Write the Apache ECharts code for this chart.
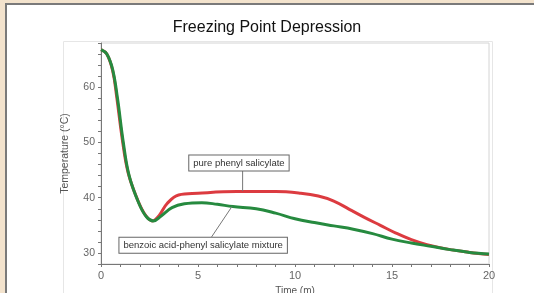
<!DOCTYPE html>
<html>
<head>
<meta charset="utf-8">
<script src="https://cdn.jsdelivr.net/npm/echarts@6/dist/echarts.min.js"></script>
<style>
  html, body { margin: 0; padding: 0; background: #f3e3cd; overflow: hidden; }
  #panel { position: absolute; left: 5px; top: 3px; width: 600px; height: 400px; background: #fff;
           border-left: 2px solid #7a7a7a; border-top: 2px solid #7a7a7a; }
  #chart { position: absolute; left: 0; top: 0; width: 534px; height: 293px; }
</style>
</head>
<body>
<div id="panel"></div>
<div id="chart"></div>
<script>
// time (min), temperature (°C)
let pureTime = [0, 0.3, 0.6, 0.8, 1.1, 1.4, 1.9, 2.3, 2.65, 3.0, 3.4, 4.0, 5, 7, 9, 10.3, 11.2, 12, 12.8, 13.6, 14.4, 15.2, 16, 16.8, 18, 19, 20];
let pureTemp = [66.8, 66, 63, 58.5, 50.5, 44.5, 39.5, 36.8, 35.8, 36.8, 38.9, 40.5, 40.8, 41.1, 41.1, 40.8, 40.3, 39.4, 37.9, 36.4, 35, 33.6, 32.4, 31.5, 30.6, 30.1, 29.7];

let mixTime = [0, 0.3, 0.6, 0.85, 1.15, 1.45, 1.95, 2.35, 2.7, 3.1, 3.66, 4.3, 5.2, 6, 6.8, 8, 9, 10, 11, 12, 13, 14, 15, 16, 17, 18, 19, 20];
let mixTemp = [66.8, 66, 63.2, 58, 50, 44, 39, 36.5, 35.8, 36.7, 38.2, 38.9, 39.1, 38.8, 38.4, 38, 37.2, 36.2, 35.5, 34.9, 34.3, 33.5, 32.5, 31.8, 31.2, 30.6, 30.1, 29.8];

let yTicks = [30, 40, 50, 60];
let xTicks = [0, 5, 10, 15, 20];

// callouts: text, box anchor (left, middle) and leader line ends, all in data units
let notes = [
    { text: 'pure phenyl salicylate', box: [4.55, 46.3], from: [7.3, 44.9], to: [7.3, 41.2] },
    { text: 'benzoic acid-phenyl salicylate mixture', box: [0.95, 31.4], from: [5.7, 32.9], to: [6.75, 38.4] }
];

let zip = (xs, ys) => xs.map((x, i) => [x, ys[i]]);

let chart = echarts.init(document.getElementById('chart'));

let option = {
    backgroundColor: 'transparent',
    animation: false,
    title: {
        text: 'Freezing Point Depression',
        left: 'center',
        top: 15,
        textStyle: { fontFamily: 'Liberation Sans, Arial', fontSize: 16, fontWeight: 'normal', color: '#111' }
    },
    grid: {
        left: 101, right: 45, top: 43, bottom: 29,
        outerBoundsMode: 'none',
        containLabel: false,
        show: true, borderColor: '#d4d4d4', borderWidth: 1
    },
    xAxis: {
        type: 'value',
        min: 0, max: 20, interval: 1,
        name: 'Time (m)',
        nameLocation: 'middle',
        nameGap: 20,
        nameTextStyle: { fontFamily: 'Liberation Sans, Arial', fontSize: 10, color: '#555' },
        axisLine: { lineStyle: { color: '#777', width: 1 } },
        axisTick: { length: 3, lineStyle: { color: '#777' } },
        splitLine: { show: false },
        axisLabel: {
            fontFamily: 'Liberation Sans, Arial', fontSize: 11, color: '#666', margin: 6,
            formatter: v => xTicks.includes(v) ? String(v) : ''
        }
    },
    yAxis: {
        type: 'value',
        min: 28, max: 68, interval: 2,
        name: 'Temperature (°C)',
        nameLocation: 'middle',
        nameGap: 30,
        nameTextStyle: { fontFamily: 'Liberation Sans, Arial', fontSize: 10.5, color: '#555' },
        axisLine: { show: true, lineStyle: { color: '#777', width: 1 } },
        axisTick: { show: true, length: 3, lineStyle: { color: '#777' } },
        splitLine: { show: false },
        axisLabel: {
            fontFamily: 'Liberation Sans, Arial', fontSize: 10.5, color: '#666', margin: 6,
            formatter: v => yTicks.includes(v) ? String(v) : ''
        }
    },
    series: [
        {
            name: 'pure phenyl salicylate',
            type: 'line',
            smooth: 0.4,
            showSymbol: false,
            data: zip(pureTime, pureTemp),
            lineStyle: { color: '#dc3b40', width: 3 },
            z: 2
        },
        {
            name: 'benzoic acid-phenyl salicylate mixture',
            type: 'line',
            smooth: 0.4,
            showSymbol: false,
            data: zip(mixTime, mixTemp),
            lineStyle: { color: '#268a3f', width: 3 },
            z: 3
        }
    ]
};

chart.setOption(option);

// photo border and callouts placed after the grid exists
let px = p => chart.convertToPixel({ gridIndex: 0 }, p);
let graphics = [
    { type: 'rect', shape: { x: 63.5, y: 41.5, width: 429, height: 260 }, style: { fill: 'none', stroke: '#e6e6e6', lineWidth: 1 }, z: -9, silent: true }
];
notes.forEach(n => {
    let a = px(n.from), b = px(n.to), box = px(n.box);
    graphics.push({
        type: 'line', z: 10,
        shape: { x1: a[0], y1: a[1], x2: b[0], y2: b[1] },
        style: { stroke: '#777', lineWidth: 1 }
    });
    graphics.push({
        type: 'text', z: 11,
        x: box[0], y: box[1],
        style: {
            text: n.text,
            fontFamily: 'Liberation Sans, Arial', fontSize: 9.5, fill: '#333',
            verticalAlign: 'middle',
            backgroundColor: '#fff', borderColor: '#666', borderWidth: 1,
            padding: [3, 4, 2, 4]
        }
    });
});
chart.setOption({ graphic: graphics });
</script>
</body>
</html>
